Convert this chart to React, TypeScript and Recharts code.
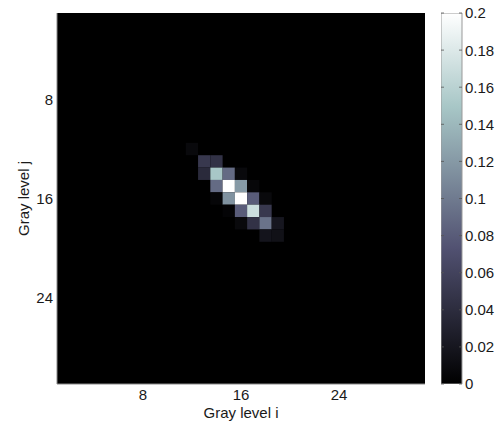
import React from 'react'
import {
  ScatterChart,
  Scatter,
  XAxis,
  YAxis,
  CartesianGrid,
  BarChart,
  Bar,
} from 'recharts'

// gray level co-occurrence matrix, non-zero cells only (everything else is 0)
const cellI = [12, 13, 14, 13, 14, 15, 16, 14, 15, 16, 17, 14, 15, 16, 17, 18, 15, 16, 17, 18, 16, 17, 18, 19, 18, 19]
const cellJ = [12, 13, 13, 14, 14, 14, 14, 15, 15, 15, 15, 16, 16, 16, 16, 16, 17, 17, 17, 17, 18, 18, 18, 18, 19, 19]
const cellP = [
  0.008, 0.05, 0.045, 0.038, 0.15, 0.09, 0.008, 0.09, 0.2, 0.12, 0.006, 0.005, 0.115, 0.2, 0.08, 0.008,
  0.004, 0.08, 0.17, 0.05, 0.008, 0.045, 0.095, 0.02, 0.018, 0.015,
]
const axisTicks = [8, 16, 24]
const barTicks = [0, 0.02, 0.04, 0.06, 0.08, 0.1, 0.12, 0.14, 0.16, 0.18, 0.2]
const pMax = 0.2

const cells = cellI.map((i, k) => ({ i, j: cellJ[k], p: cellP[k] }))

const W = 498
const H = 421
const PLOT_L = 57
const PLOT_R = 425
const PLOT_T = 13
const PLOT_B = 384
const CELL_W = (PLOT_R - PLOT_L) / 30
const CELL_H = (PLOT_B - PLOT_T) / 30
const BAR_L = 441
const BAR_W = 21
const FONT = '"Liberation Sans", Arial, sans-serif'
const TEXT = '#1a1a1a'

// matlab "bone" colormap, piecewise linear
const interp = (t: number, pts: number[][]) => {
  for (let k = 1; k < pts.length; k++) {
    if (t <= pts[k][0]) {
      const [x0, y0] = pts[k - 1]
      const [x1, y1] = pts[k]
      return y0 + ((t - x0) / (x1 - x0)) * (y1 - y0)
    }
  }
  return 1
}
const bone = (t: number) => {
  const c = Math.max(0, Math.min(1, t))
  const r = interp(c, [[0, 0], [0.746, 0.653], [1, 1]])
  const g = interp(c, [[0, 0], [0.365, 0.319], [0.746, 0.778], [1, 1]])
  const b = interp(c, [[0, 0], [0.365, 0.444], [1, 1]])
  return `rgb(${Math.round(r * 255)},${Math.round(g * 255)},${Math.round(b * 255)})`
}
const gradStops = [0, 0.365, 0.746, 1]

const CellShape = (props: any) => {
  const { cx, cy, payload } = props
  if (cx == null || cy == null) return null
  return (
    <rect
      x={cx - CELL_W / 2}
      y={cy - CELL_H / 2}
      width={CELL_W}
      height={CELL_H}
      fill={bone(payload.p / pMax)}
    />
  )
}

const YLabel = () => {
  const cy = (PLOT_T + PLOT_B) / 2
  const cx = 24
  return (
    <text
      x={cx}
      y={cy}
      transform={`rotate(-90 ${cx} ${cy})`}
      textAnchor="middle"
      dy="0.35em"
      fontSize={15}
      fontFamily={FONT}
      fill={TEXT}
    >
      Gray level j
    </text>
  )
}

const BarTick = (props: any) => {
  const { x, y, payload } = props
  const right = x - 3
  return (
    <g>
      <line x1={right - BAR_W} x2={right - BAR_W + 3} y1={y} y2={y} stroke="#555" strokeWidth={0.8} />
      <line x1={right - 3} x2={right} y1={y} y2={y} stroke="#555" strokeWidth={0.8} />
      <text x={x} y={y} dy="0.36em" textAnchor="start" fontSize={15} fontFamily={FONT} fill={TEXT}>
        {String(payload.value)}
      </text>
    </g>
  )
}

export default function App() {
  return (
    <div style={{ position: 'absolute', left: 0, top: 0, width: W, height: H, background: '#fff' }}>
      <div style={{ position: 'absolute', left: 0, top: 0 }}>
        <ScatterChart
          width={W}
          height={H}
          margin={{ top: PLOT_T, right: W - PLOT_R, bottom: 0, left: 0 }}
        >
          <CartesianGrid fill="#000" horizontal={false} vertical={false} />
          <XAxis
            type="number"
            dataKey="i"
            domain={[1, 31]}
            ticks={axisTicks}
            allowDataOverflow
            height={H - PLOT_B}
            tickLine={false}
            tickSize={3}
            tickMargin={2}
            axisLine={{ stroke: '#888' }}
            tick={{ fontSize: 15, fontFamily: FONT, fill: TEXT }}
            label={{ value: 'Gray level i', position: 'insideBottom', offset: 3, fontSize: 15, fontFamily: FONT, fill: TEXT }}
          />
          <YAxis
            type="number"
            dataKey="j"
            domain={[1, 31]}
            ticks={axisTicks}
            reversed
            allowDataOverflow
            width={PLOT_L}
            tickLine={false}
            tickSize={2}
            tickMargin={2}
            axisLine={{ stroke: '#888' }}
            tick={{ fontSize: 15, fontFamily: FONT, fill: TEXT }}
            label={<YLabel />}
          />
          <Scatter data={cells} shape={<CellShape />} isAnimationActive={false} />
        </ScatterChart>
      </div>
      <div style={{ position: 'absolute', left: BAR_L, top: 0 }}>
        <BarChart
          width={W - BAR_L}
          height={H}
          data={[{ name: 'p', v: pMax }]}
          margin={{ top: PLOT_T, right: W - BAR_L - BAR_W - 36, bottom: H - PLOT_B, left: 0 }}
          barCategoryGap={0}
        >
          <defs>
            <linearGradient id="boneGrad" x1="0" y1="1" x2="0" y2="0">
              {gradStops.map((s) => (
                <stop key={s} offset={s} stopColor={bone(s)} />
              ))}
            </linearGradient>
          </defs>
          <XAxis dataKey="name" hide />
          <YAxis
            orientation="right"
            domain={[0, pMax]}
            ticks={barTicks}
            allowDataOverflow
            width={36}
            axisLine={false}
            tickLine={false}
            tickSize={1}
            tickMargin={2}
            interval={0}
            tick={<BarTick />}
          />
          <Bar dataKey="v" fill="url(#boneGrad)" stroke="#999" strokeWidth={1} isAnimationActive={false} />
        </BarChart>
      </div>
    </div>
  )
}
